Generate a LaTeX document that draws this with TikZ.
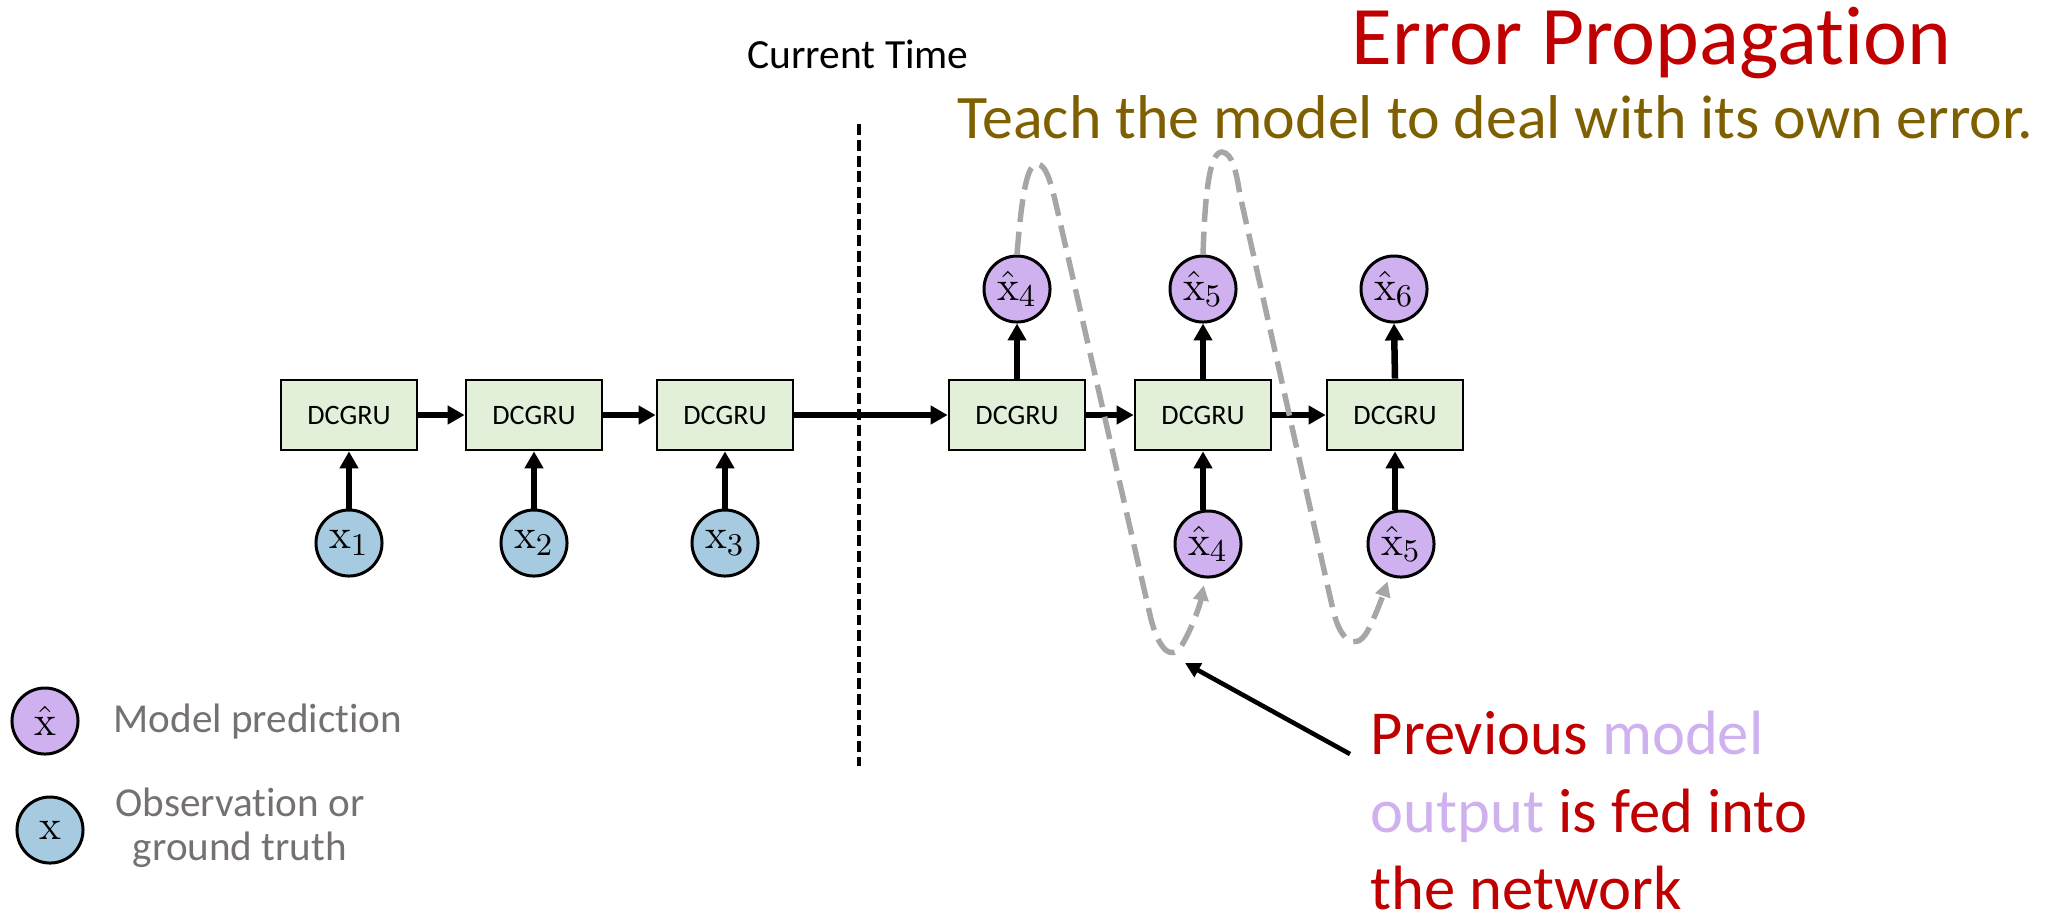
\documentclass[tikz,border=0pt]{standalone}
\usepackage[no-math]{fontspec}
\setmainfont{Carlito}[Ligatures=NoCommon]
\usetikzlibrary{arrows.meta}

\definecolor{boxgreen}{HTML}{E2F0D9}
\definecolor{obsblue}{HTML}{A6CBE0}
\definecolor{predpurple}{HTML}{D0B1F0}
\definecolor{errred}{HTML}{C00000}
\definecolor{olivetext}{HTML}{7F6000}
\definecolor{loopgray}{HTML}{A6A6A6}
\definecolor{legendgray}{HTML}{767171}

\begin{document}
\begin{tikzpicture}[x=0.01cm, y=-0.01cm,
  dcgru/.style={draw, line width=0.77pt, fill=boxgreen, minimum width=1.36cm,
    minimum height=0.70cm, inner sep=0pt, font=\fontsize{8}{9.5}\selectfont},
  obsnode/.style={circle, draw, line width=0.85pt, fill=obsblue, minimum size=0.66cm,
    inner sep=0pt, font=\fontsize{12.5}{14}\selectfont},
  prednode/.style={obsnode, fill=predpurple},
  flowarrow/.style={line width=1.85pt, -{Triangle[length=4.8pt,width=5.1pt]}},
  feedback/.style={loopgray, line width=1.55pt, dash pattern=on 6.5pt off 2.8pt,
    -{Triangle[length=4.3pt,width=4.3pt]}},
  pointer/.style={line width=1.3pt, -{Triangle[length=4.3pt,width=4.3pt]}},
  timeline/.style={line width=1.15pt, dash pattern=on 3.1pt off 1.4pt},
]
\useasboundingbox (0,0) rectangle (2067,917);
\fill[white] (0,0) rectangle (2067,917);

% recurrent cells
\node[dcgru] (c1) at (349,415) {DCGRU};
\node[dcgru] (c2) at (534,415) {DCGRU};
\node[dcgru] (c3) at (725,415) {DCGRU};
\node[dcgru] (c4) at (1017,415) {DCGRU};
\node[dcgru] (c5) at (1203,415) {DCGRU};
\node[dcgru] (c6) at (1395,415) {DCGRU};

% observed inputs
\node[obsnode] (x1) at (349,543) {$\mathrm{x}_1$};
\node[obsnode] (x2) at (534,543) {$\mathrm{x}_2$};
\node[obsnode] (x3) at (725,543) {$\mathrm{x}_3$};

% predictions
\node[prednode] (p4) at (1017,289) {$\hat{\mathrm{x}}_4$};
\node[prednode] (p5) at (1203,289) {$\hat{\mathrm{x}}_5$};
\node[prednode] (p6) at (1394,289) {$\hat{\mathrm{x}}_6$};

% predictions fed back as inputs
\node[prednode] (q4) at (1208,544) {$\hat{\mathrm{x}}_4$};
\node[prednode] (q5) at (1401,544) {$\hat{\mathrm{x}}_5$};

% current time marker
\coordinate (tTop) at (859,124);
\coordinate (tBot) at (859,766);
\draw[timeline] (tTop) -- (tBot);
\node[anchor=base, font=\fontsize{11.8}{14}\selectfont] (ct) at (858,68) {Current Time};

% hidden-state flow
\draw[flowarrow] (c1.east) -- (c2.west);
\draw[flowarrow] (c2.east) -- (c3.west);
\draw[flowarrow] (c3.east) -- (c4.west);
\draw[flowarrow] (c4.east) -- (c5.west);
\draw[flowarrow] (c5.east) -- (c6.west);

% inputs into cells
\draw[flowarrow] (x1.north) -- (c1.south);
\draw[flowarrow] (x2.north) -- (c2.south);
\draw[flowarrow] (x3.north) -- (c3.south);
\draw[flowarrow] (c5.south |- q4.north) -- (c5.south);
\draw[flowarrow] (c6.south |- q5.north) -- (c6.south);

% outputs
\draw[flowarrow] (c4.north) -- (p4.south);
\draw[flowarrow] (c5.north) -- (p5.south);
\draw[flowarrow] (c6.north) -- (p6.south);

% feedback loops
\draw[feedback, shorten >=2pt] (p4.north)
  .. controls (1022,190) and (1028,162) .. (1038,164)
  .. controls (1046,166) and (1050,180) .. (1055,200)
  -- (1150,615)
  .. controls (1158,650) and (1172,662) .. (1182,645)
  .. controls (1192,628) and (1200,605) .. (q4.265);
\draw[feedback, shorten >=1.5pt] (p5.north)
  .. controls (1205,190) and (1210,152) .. (1222,152)
  .. controls (1232,153) and (1236,170) .. (1240,195)
  -- (1333,610)
  .. controls (1340,640) and (1355,652) .. (1367,632)
  .. controls (1376,615) and (1383,595) .. (q5.250);

% titles
\node[anchor=base west, text=errred, font=\fontsize{23.7}{28}\selectfont, inner sep=0pt]
  (title) at (1351,64) {Error Propagation};
\node[anchor=base west, text=olivetext, font=\fontsize{17.6}{21}\selectfont, inner sep=0pt]
  (subtitle) at (957,138) {Teach the model to deal with its own error.};

% annotation (base anchor sits on the last line)
\node[anchor=base west, align=left, text=errred, inner sep=0pt,
  font=\fontsize{17.8}{21.9}\selectfont] (note) at (1370,909)
  {Previous \textcolor{predpurple}{model}\\\textcolor{predpurple}{output} is fed into\\the network};
\coordinate (ptrTail) at (1350,754);
\coordinate (ptrTip) at (1185,663);
\draw[pointer] (ptrTail) -- (ptrTip);

% legend
\node[prednode] (lp) at (45,721) {$\hat{\mathrm{x}}$};
\node[obsnode] (lo) at (50,830) {$\mathrm{x}$};
\node[anchor=base west, text=legendgray, inner sep=0pt, font=\fontsize{11.7}{14}\selectfont]
  (lpt) at (113,732) {Model prediction};
\node[anchor=base, align=center, text=legendgray, inner sep=0pt,
  font=\fontsize{11.7}{12.5}\selectfont] (lot) at (240,860) {Observation or\\ground truth};
\end{tikzpicture}
\end{document}
